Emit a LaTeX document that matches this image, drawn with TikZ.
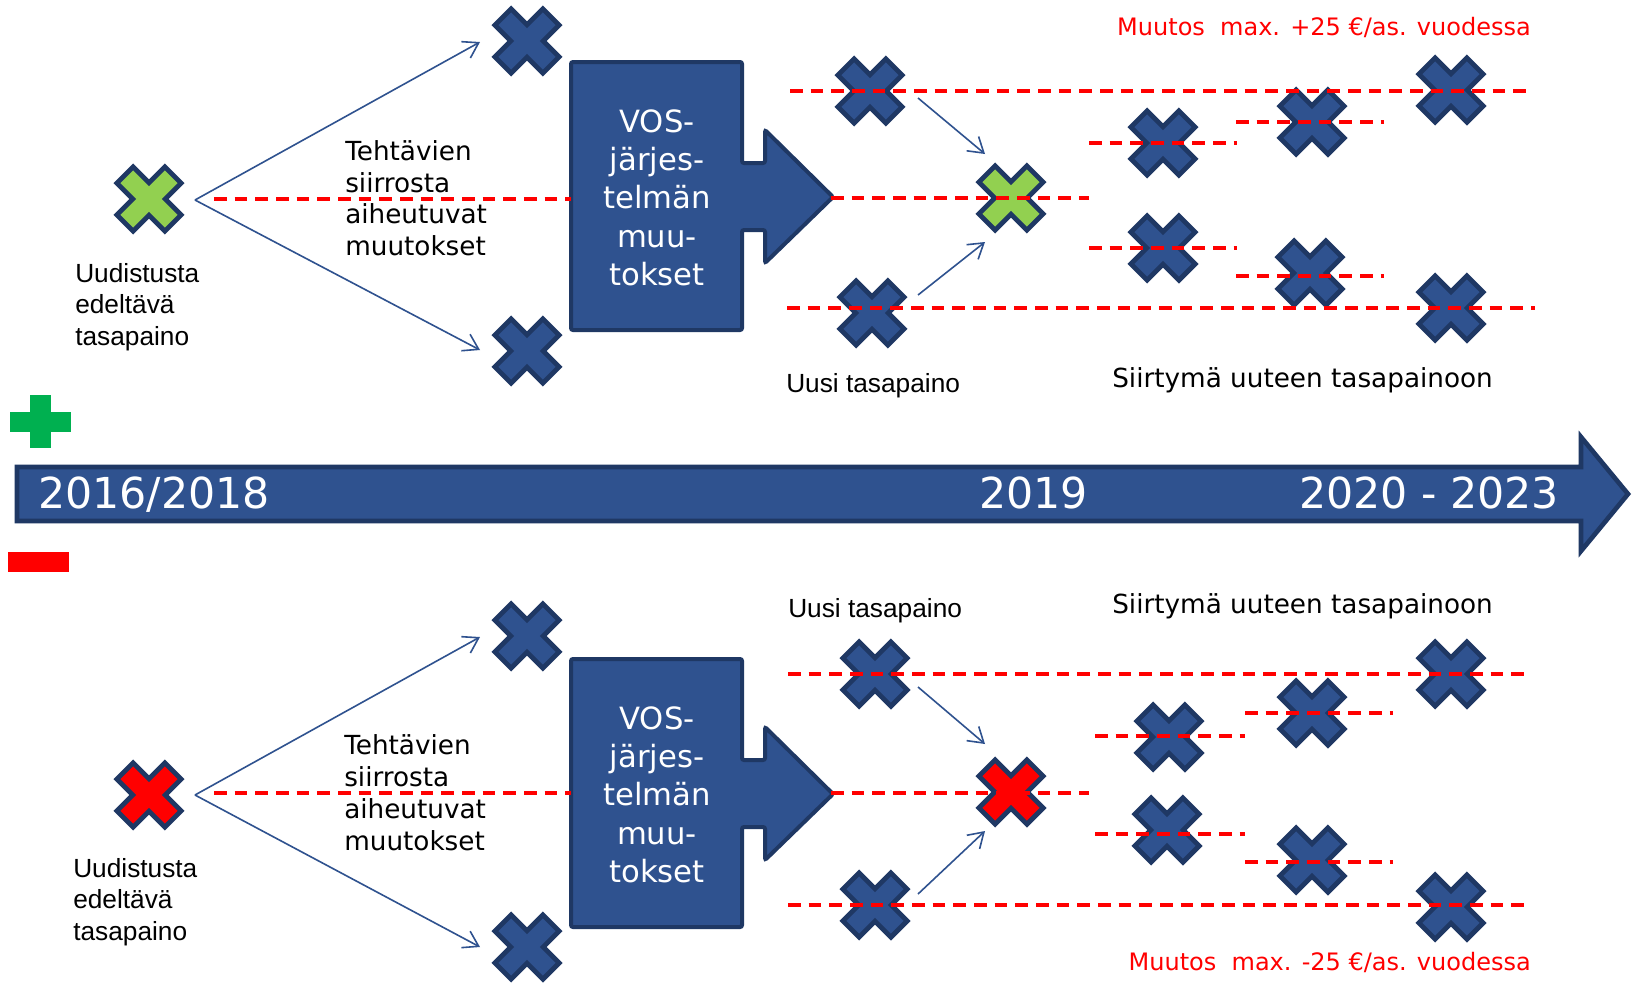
\documentclass[tikz,border=0pt]{standalone}
\usepackage{fontspec}
\setmainfont{DejaVu Sans}
\newfontfamily\arialf{Liberation Sans}
\usetikzlibrary{arrows.meta,calc}
\definecolor{xblue}{RGB}{47,82,143}
\definecolor{xborder}{RGB}{31,56,100}
\definecolor{xgreen}{RGB}{146,208,80}
\definecolor{xred}{RGB}{255,0,0}
\definecolor{pgreen}{RGB}{0,176,80}
\tikzset{
  redline/.style={draw=xred, line width=2.6pt, dash pattern=on 9.5pt off 6pt},
  conn/.style={draw=xblue, line width=1.2pt, -{Straight Barb[length=11pt,width=14pt]}},
  vtxt/.style={font=\fontsize{19.7pt}{23.5pt}\selectfont, anchor=base west, inner sep=0pt},
  atxt/.style={font=\arialf\fontsize{19.7pt}{23.5pt}\selectfont, anchor=base west, inner sep=0pt},
  rtxt/.style={text=xred, font=\fontsize{18pt}{22pt}\selectfont, anchor=base east, inner sep=0pt},
  ytxt/.style={text=white, font=\fontsize{32pt}{38pt}\selectfont, anchor=base west, inner sep=0pt},
  btxt/.style={text=white, font=\fontsize{23pt}{28pt}\selectfont, anchor=base, inner sep=0pt},
  xshape/.style={draw=xborder, line width=3.6pt, line join=miter},
  vosshape/.style={fill=xblue, draw=xborder, line width=3pt, rounded corners=1.5pt},
  pics/xmark/.style={code={
    \node[inner sep=0pt, minimum size=52pt] (-c) {};
    \filldraw[xshape, fill=#1, rotate=45]
      (34,11.5) -- (11.5,11.5) -- (11.5,34) -- (-11.5,34) -- (-11.5,11.5)
      -- (-34,11.5) -- (-34,-11.5) -- (-11.5,-11.5) -- (-11.5,-34)
      -- (11.5,-34) -- (11.5,-11.5) -- (34,-11.5) -- cycle;
  }},
  pics/vos/.style={code={
    \filldraw[vosshape] (0,0) -- (171,0) -- (171,101) -- (194,101) -- (194,68)
      -- (262,135) -- (194,201) -- (194,168) -- (171,168) -- (171,268) -- (0,268) -- cycle;
    \node[btxt] (-l1) at (86,70) {VOS-};
    \node[btxt] (-l2) at (86,108) {järjes-};
    \node[btxt] (-l3) at (86,146.5) {telmän};
    \node[btxt] (-l4) at (86,185) {muu-};
    \node[btxt] (-l5) at (86,223) {tokset};
  }},
}
\begin{document}
\begin{tikzpicture}[x=0.75pt, y=-0.75pt]
\useasboundingbox (0,0) rectangle (1634,982);
\fill[white] (0,0) rectangle (1634,982);

% plus / minus signs
\fill[pgreen] (10,412) rectangle (71,432);
\fill[pgreen] (30,395) rectangle (51,448);
\fill[xred] (8,552) rectangle (69,572);

% timeline arrow
\filldraw[fill=xblue, draw=xborder, line width=3.5pt, line join=miter]
  (17,467) -- (1581,467) -- (1581,437) -- (1628,494) -- (1581,551) -- (1581,521) -- (17,521) -- cycle;
\node[ytxt] (y1) at (38,508) {2016/2018};
\node[ytxt] (y2) at (979,508) {2019};
\node[ytxt] (y3) at (1299,508) {2020 - 2023};

% ===== top half =====
\pic (vosA) at (571,62) {vos};
\pic (xg) at (149,199) {xmark=xgreen};
\pic (xa) at (527,41) {xmark=xblue};
\pic (xb) at (527,351) {xmark=xblue};
\pic (na) at (870,91) {xmark=xblue};
\pic (ng) at (1011,198) {xmark=xgreen};
\pic (nb) at (872,313) {xmark=xblue};
\pic (ta) at (1163,143) {xmark=xblue};
\pic (tb) at (1163,248) {xmark=xblue};
\pic (tc) at (1312,122) {xmark=xblue};
\pic (td) at (1310,273) {xmark=xblue};
\pic (te) at (1451,90) {xmark=xblue};
\pic (tf) at (1451,308) {xmark=xblue};

\draw[redline] (214,199) -- (571,199);
\draw[redline] (831,198) -- (1089,198);
\draw[redline] (790,91) -- (1530,91);
\draw[redline] (787,308) -- (1535,308);
\draw[redline] (1089,143) -- (1237,143);
\draw[redline] (1089,248) -- (1237,248);
\draw[redline] (1236,122) -- (1384,122);
\draw[redline] (1236,276) -- (1384,276);

\coordinate (fanA) at ($(xg-c)+(46,1)$);
\draw[conn] (fanA) -- ($(xa-c)+(-47,1)$);
\draw[conn] (fanA) -- ($(xb-c)+(-47,-1)$);
\draw[conn] ($(na-c)+(48,7)$) -- ($(ng-c)+(-26,-44)$);
\draw[conn] ($(nb-c)+(46,-18)$) -- ($(ng-c)+(-26,44)$);

\node[atxt] (udA1) at (75,282) {Uudistusta};
\node[atxt] (udA2) at (75,313) {edeltävä};
\node[atxt] (udA3) at (75,345) {tasapaino};
\node[vtxt] (teA1) at (345,160) {Tehtävien};
\node[vtxt] (teA2) at (345,192) {siirrosta};
\node[vtxt] (teA3) at (345,223) {aiheutuvat};
\node[vtxt] (teA4) at (345,255) {muutokset};
\node[atxt] (uusA) at (786,392) {Uusi tasapaino};
\node[vtxt] (siA) at (1112,387) {Siirtymä uuteen tasapainoon};
\node[rtxt] (muA) at (1531,35) {Muutos\ \ max. +25 €/as. vuodessa};

% ===== bottom half =====
\pic (vosB) at (571,659) {vos};
\pic (xr) at (149,795) {xmark=xred};
\pic (ya) at (527,636) {xmark=xblue};
\pic (yb) at (527,947) {xmark=xblue};
\pic (ma) at (875,674) {xmark=xblue};
\pic (mr) at (1011,792) {xmark=xred};
\pic (mb) at (875,905) {xmark=xblue};
\pic (ua) at (1169,737) {xmark=xblue};
\pic (ub) at (1167,830) {xmark=xblue};
\pic (uc) at (1312,713) {xmark=xblue};
\pic (ud) at (1312,860) {xmark=xblue};
\pic (ue) at (1451,674) {xmark=xblue};
\pic (uf) at (1451,907) {xmark=xblue};

\draw[redline] (214,793) -- (571,793);
\draw[redline] (831,793) -- (1089,793);
\draw[redline] (788,674) -- (1527,674);
\draw[redline] (788,905) -- (1527,905);
\draw[redline] (1095,736) -- (1245,736);
\draw[redline] (1095,834) -- (1245,834);
\draw[redline] (1245,713) -- (1393,713);
\draw[redline] (1245,862) -- (1393,862);

\coordinate (fanB) at ($(xr-c)+(46,0)$);
\draw[conn] (fanB) -- ($(ya-c)+(-47,1)$);
\draw[conn] (fanB) -- ($(yb-c)+(-47,0)$);
\draw[conn] ($(ma-c)+(43,13)$) -- ($(mr-c)+(-26,-48)$);
\draw[conn] ($(mb-c)+(43,-11)$) -- ($(mr-c)+(-26,39)$);

\node[atxt] (udB1) at (73,877) {Uudistusta};
\node[atxt] (udB2) at (73,908) {edeltävä};
\node[atxt] (udB3) at (73,940) {tasapaino};
\node[vtxt] (teB1) at (344,754) {Tehtävien};
\node[vtxt] (teB2) at (344,786) {siirrosta};
\node[vtxt] (teB3) at (344,818) {aiheutuvat};
\node[vtxt] (teB4) at (344,850) {muutokset};
\node[atxt] (uusB) at (788,617) {Uusi tasapaino};
\node[vtxt] (siB) at (1112,613) {Siirtymä uuteen tasapainoon};
\node[rtxt] (muB) at (1531,970) {Muutos\ \ max. -25 €/as. vuodessa};
\end{tikzpicture}
\end{document}
